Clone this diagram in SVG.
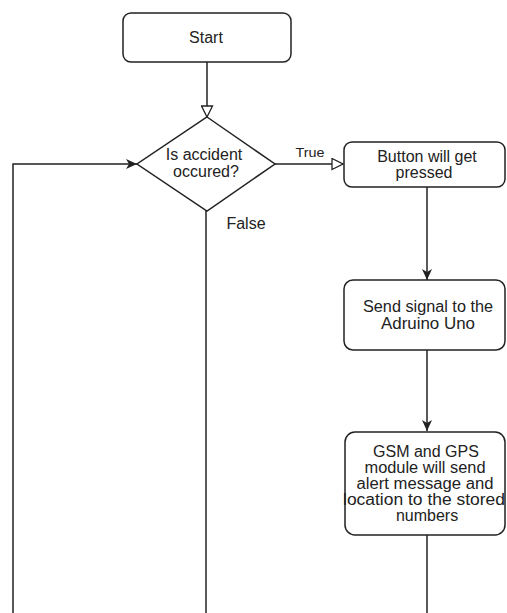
<svg xmlns="http://www.w3.org/2000/svg" width="507" height="613" viewBox="0 0 507 613">
<defs>
<style>
.box{fill:#fff;stroke:#222;stroke-width:1.5}
.ln{fill:none;stroke:#222;stroke-width:1.5}
.t{font-family:"Liberation Sans",Arial,sans-serif;font-size:16px;fill:#222;text-anchor:middle}
.lbl{font-family:"Liberation Sans",Arial,sans-serif;fill:#222}
</style>
<marker id="hollow" viewBox="0 0 13 13" refX="12" refY="6.5" markerWidth="13" markerHeight="13" markerUnits="userSpaceOnUse" orient="auto">
<path d="M1,1 L12,6.5 L1,12 z" fill="#fff" stroke="#222" stroke-width="1.3"/>
</marker>
<marker id="filled" viewBox="0 0 12 12" refX="11" refY="6" markerWidth="12" markerHeight="12" markerUnits="userSpaceOnUse" orient="auto">
<path d="M0,1 L11,6 L0,11 L3,6 z" fill="#222"/>
</marker>
</defs>
<rect width="507" height="613" fill="#fff"/>
<g id="connectors">
<line class="ln" x1="207" y1="62" x2="207" y2="117" marker-end="url(#hollow)"/>
<line class="ln" x1="275" y1="164" x2="343" y2="164" marker-end="url(#hollow)"/>
<line class="ln" x1="427" y1="187" x2="427" y2="280" marker-end="url(#filled)"/>
<line class="ln" x1="427" y1="350" x2="427" y2="431" marker-end="url(#filled)"/>
<line class="ln" x1="427" y1="535" x2="427" y2="613"/>
<line class="ln" x1="206" y1="211" x2="206" y2="613"/>
<polyline class="ln" points="13,613 13,164 137,164" marker-end="url(#filled)"/>
<text class="lbl" x="310" y="157" font-size="12" text-anchor="middle" textLength="29" lengthAdjust="spacingAndGlyphs">True</text>
<text class="lbl" x="246" y="229" font-size="16" text-anchor="middle">False</text>
</g>
<g id="start">
<rect class="box" x="123" y="13" width="168" height="49" rx="8"/>
<text class="t" x="206" y="43">Start</text>
</g>
<g id="decision">
<polygon class="box" points="207,117 275,164 207,211 137,164"/>
<text class="t" x="204" y="160">Is accident</text>
<text class="t" x="206" y="177">occured?</text>
</g>
<g id="button">
<rect class="box" x="344" y="142" width="161" height="45" rx="8"/>
<text class="t" x="427" y="162">Button will get</text>
<text class="t" x="424" y="178">pressed</text>
</g>
<g id="send">
<rect class="box" x="344" y="280" width="161" height="70" rx="9"/>
<text class="t" x="428" y="312" textLength="130" lengthAdjust="spacingAndGlyphs">Send signal to the</text>
<text class="t" x="428" y="329" textLength="94" lengthAdjust="spacingAndGlyphs">Adruino Uno</text>
</g>
<g id="gsm">
<rect class="box" x="345" y="432" width="160" height="103" rx="10"/>
<text class="t" x="426" y="457">GSM and GPS</text>
<text class="t" x="425" y="473" textLength="121" lengthAdjust="spacingAndGlyphs">module will send</text>
<text class="t" x="425" y="489" textLength="137" lengthAdjust="spacingAndGlyphs">alert message and</text>
<text class="t" x="424" y="505" textLength="162" lengthAdjust="spacingAndGlyphs">location to the stored</text>
<text class="t" x="427" y="521">numbers</text>
</g>
</svg>
